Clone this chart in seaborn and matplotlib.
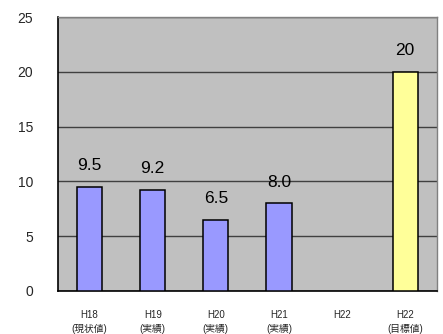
import matplotlib
matplotlib.use("Agg")
import matplotlib.pyplot as plt
import numpy as np
import pandas as pd
import seaborn as sns

# Yearly figures: H18 baseline, H19-H21 actuals, H22 (no value yet), H22 target
categories = ["H18\n(現状値)", "H19\n(実績)", "H20\n(実績)", "H21\n(実績)", "H22", "H22\n(目標値)"]
values = [9.5, 9.2, 6.5, 8.0, np.nan, 20]
value_labels = ["9.5", "9.2", "6.5", "8.0", "", "20"]
kinds = ["actual", "actual", "actual", "actual", "actual", "target"]
y_ticks = [0, 5, 10, 15, 20, 25]

df = pd.DataFrame({"year": categories, "value": values, "kind": kinds})

sns.set_style("white")
plt.rcParams["font.family"] = ["Liberation Sans", "Noto Sans CJK JP"]

fig = plt.figure(figsize=(4.43, 3.34), dpi=100)
ax = fig.add_axes([0.131, 0.129, 0.855, 0.820])
ax.set_facecolor("#C0C0C0")

sns.barplot(data=df, x="year", y="value", hue="kind",
            palette={"actual": "#9999FF", "target": "#FFFF99"},
            order=categories, width=0.4, dodge=False, legend=False,
            saturation=1, edgecolor="black", linewidth=1.1, ax=ax, zorder=3)

# value labels above the bars
for i, (v, lab) in enumerate(zip(values, value_labels)):
    if lab and not np.isnan(v):
        ax.annotate(lab, (i, v), xytext=(0, 12), textcoords="offset points",
                    ha="center", va="baseline", fontsize=12.5, color="black")

ax.set_ylim(0, 25)
ax.set_xlim(-0.5, len(categories) - 0.5)
ax.set_yticks(y_ticks)
ax.set_yticklabels([str(t) for t in y_ticks], fontsize=10)
ax.yaxis.grid(True, color="#404040", linewidth=1.0, zorder=1)
ax.set_axisbelow(True)

ax.set_xticks(range(len(categories)))
ax.set_xticklabels(categories, fontsize=7, linespacing=1.45)
ax.set_xticks(np.arange(0.5, len(categories) - 0.5, 1.0), minor=True)
ax.tick_params(axis="x", which="major", length=0, pad=14)
ax.tick_params(axis="x", which="minor", direction="in", length=3, width=0.8, color="black")
ax.tick_params(axis="y", length=0, pad=18)

ax.set_xlabel("")
ax.set_ylabel("")

for side in ["left", "bottom"]:
    ax.spines[side].set_color("black")
    ax.spines[side].set_linewidth(1.2)
for side in ["top", "right"]:
    ax.spines[side].set_color("#808080")
    ax.spines[side].set_linewidth(1.0)

fig.savefig("out.png", dpi=100, facecolor="white")
